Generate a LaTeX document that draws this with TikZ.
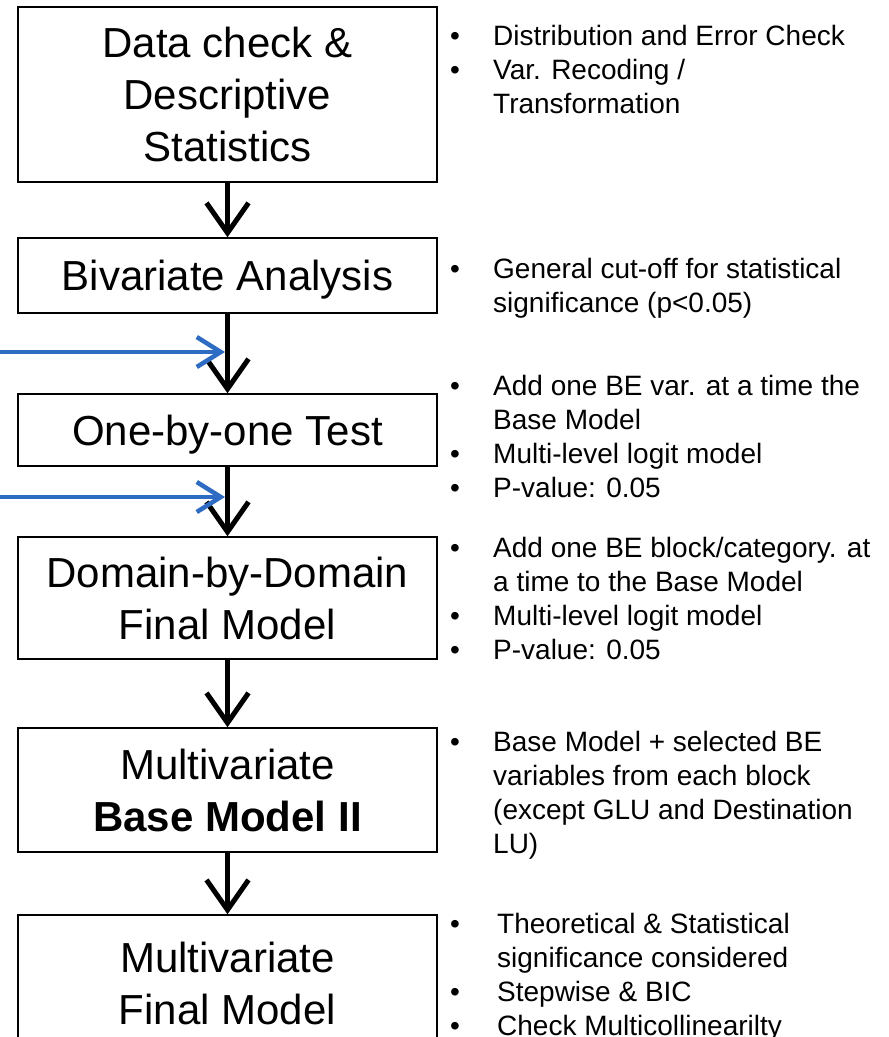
\documentclass[tikz,border=0pt]{standalone}
\usepackage{fontspec}
\setmainfont{Liberation Sans}
\usetikzlibrary{arrows.meta}
\definecolor{feedblue}{RGB}{46,108,196}

\begin{document}
\begin{tikzpicture}[x=1pt,y=-1pt,
    stage/.style={draw=black,line width=1.5pt,minimum width=419pt,inner sep=0pt,text depth=0pt,align=center,font=\fontsize{42}{52}\selectfont},
    note/.style={anchor=north west,inner sep=0pt,font=\fontsize{28}{34}\selectfont},
    flow/.style={line width=5pt,-{Straight Barb[length=30pt,width=42pt]}},
    feed/.style={feedblue,line width=4.5pt,-{Straight Barb[length=24pt,width=30pt]}}]
        \useasboundingbox (0,0) rectangle (889,1037);
        \clip (0,0) rectangle (889,1037);

        \node[stage,minimum height=175pt] (S1) at (227.5,94.5) {Data check \&\\Descriptive\\Statistics};
        \node[stage,minimum height=75pt] (S2) at (227.5,275.5) {Bivariate Analysis};
        \node[stage,minimum height=72pt] (S3) at (227.5,430) {One-by-one Test};
        \node[stage,minimum height=122pt] (S4) at (227.5,598) {Domain-by-Domain\\Final Model};
        \node[stage,minimum height=124pt] (S5) at (227.5,790) {Multivariate\\\textbf{Base Model II}};
        \node[stage,minimum height=136pt] (S6) at (227.5,983) {Multivariate\\Final Model};

        \node[note] (N1) at (450,21) {\begin{tabular}{@{}p{43pt}@{}l@{}}
            \textbullet & Distribution and Error Check\\
            \textbullet & Var. Recoding /\\
            & Transformation
        \end{tabular}};
        \node[note] (N2) at (450,254) {\begin{tabular}{@{}p{43pt}@{}l@{}}
            \textbullet & General cut-off for statistical\\
            & significance (p<0.05)
        \end{tabular}};
        \node[note] (N3) at (450,371) {\begin{tabular}{@{}p{43pt}@{}l@{}}
            \textbullet & Add one BE var. at a time the\\
            & Base Model\\
            \textbullet & Multi-level logit model\\
            \textbullet & P-value: 0.05
        \end{tabular}};
        \node[note] (N4) at (450,533) {\begin{tabular}{@{}p{43pt}@{}l@{}}
            \textbullet & Add one BE block/category. at\\
            & a time to the Base Model\\
            \textbullet & Multi-level logit model\\
            \textbullet & P-value: 0.05
        \end{tabular}};
        \node[note] (N5) at (450,727) {\begin{tabular}{@{}p{43pt}@{}l@{}}
            \textbullet & Base Model + selected BE\\
            & variables from each block\\
            & (except GLU and Destination\\
            & LU)
        \end{tabular}};
        \node[note] (N6) at (450,909) {\begin{tabular}{@{}p{47pt}@{}l@{}}
            \textbullet & Theoretical \& Statistical\\
            & significance considered\\
            \textbullet & Stepwise \& BIC\\
            \textbullet & Check Multicollinearilty
        \end{tabular}};

        \draw[flow] (S1) -- (S2);
        \draw[flow] (S2) -- (S3);
        \draw[flow] (S3) -- (S4);
        \draw[flow] (S4) -- (S5);
        \draw[flow] (S5) -- (S6);

        \coordinate (F1) at (0,352);
        \coordinate (F1e) at (225,352);
        \coordinate (F2) at (0,497);
        \coordinate (F2e) at (225,497);
        \draw[feed] (F1) -- (F1e);
        \draw[feed] (F2) -- (F2e);
    \end{tikzpicture}
\end{document}
